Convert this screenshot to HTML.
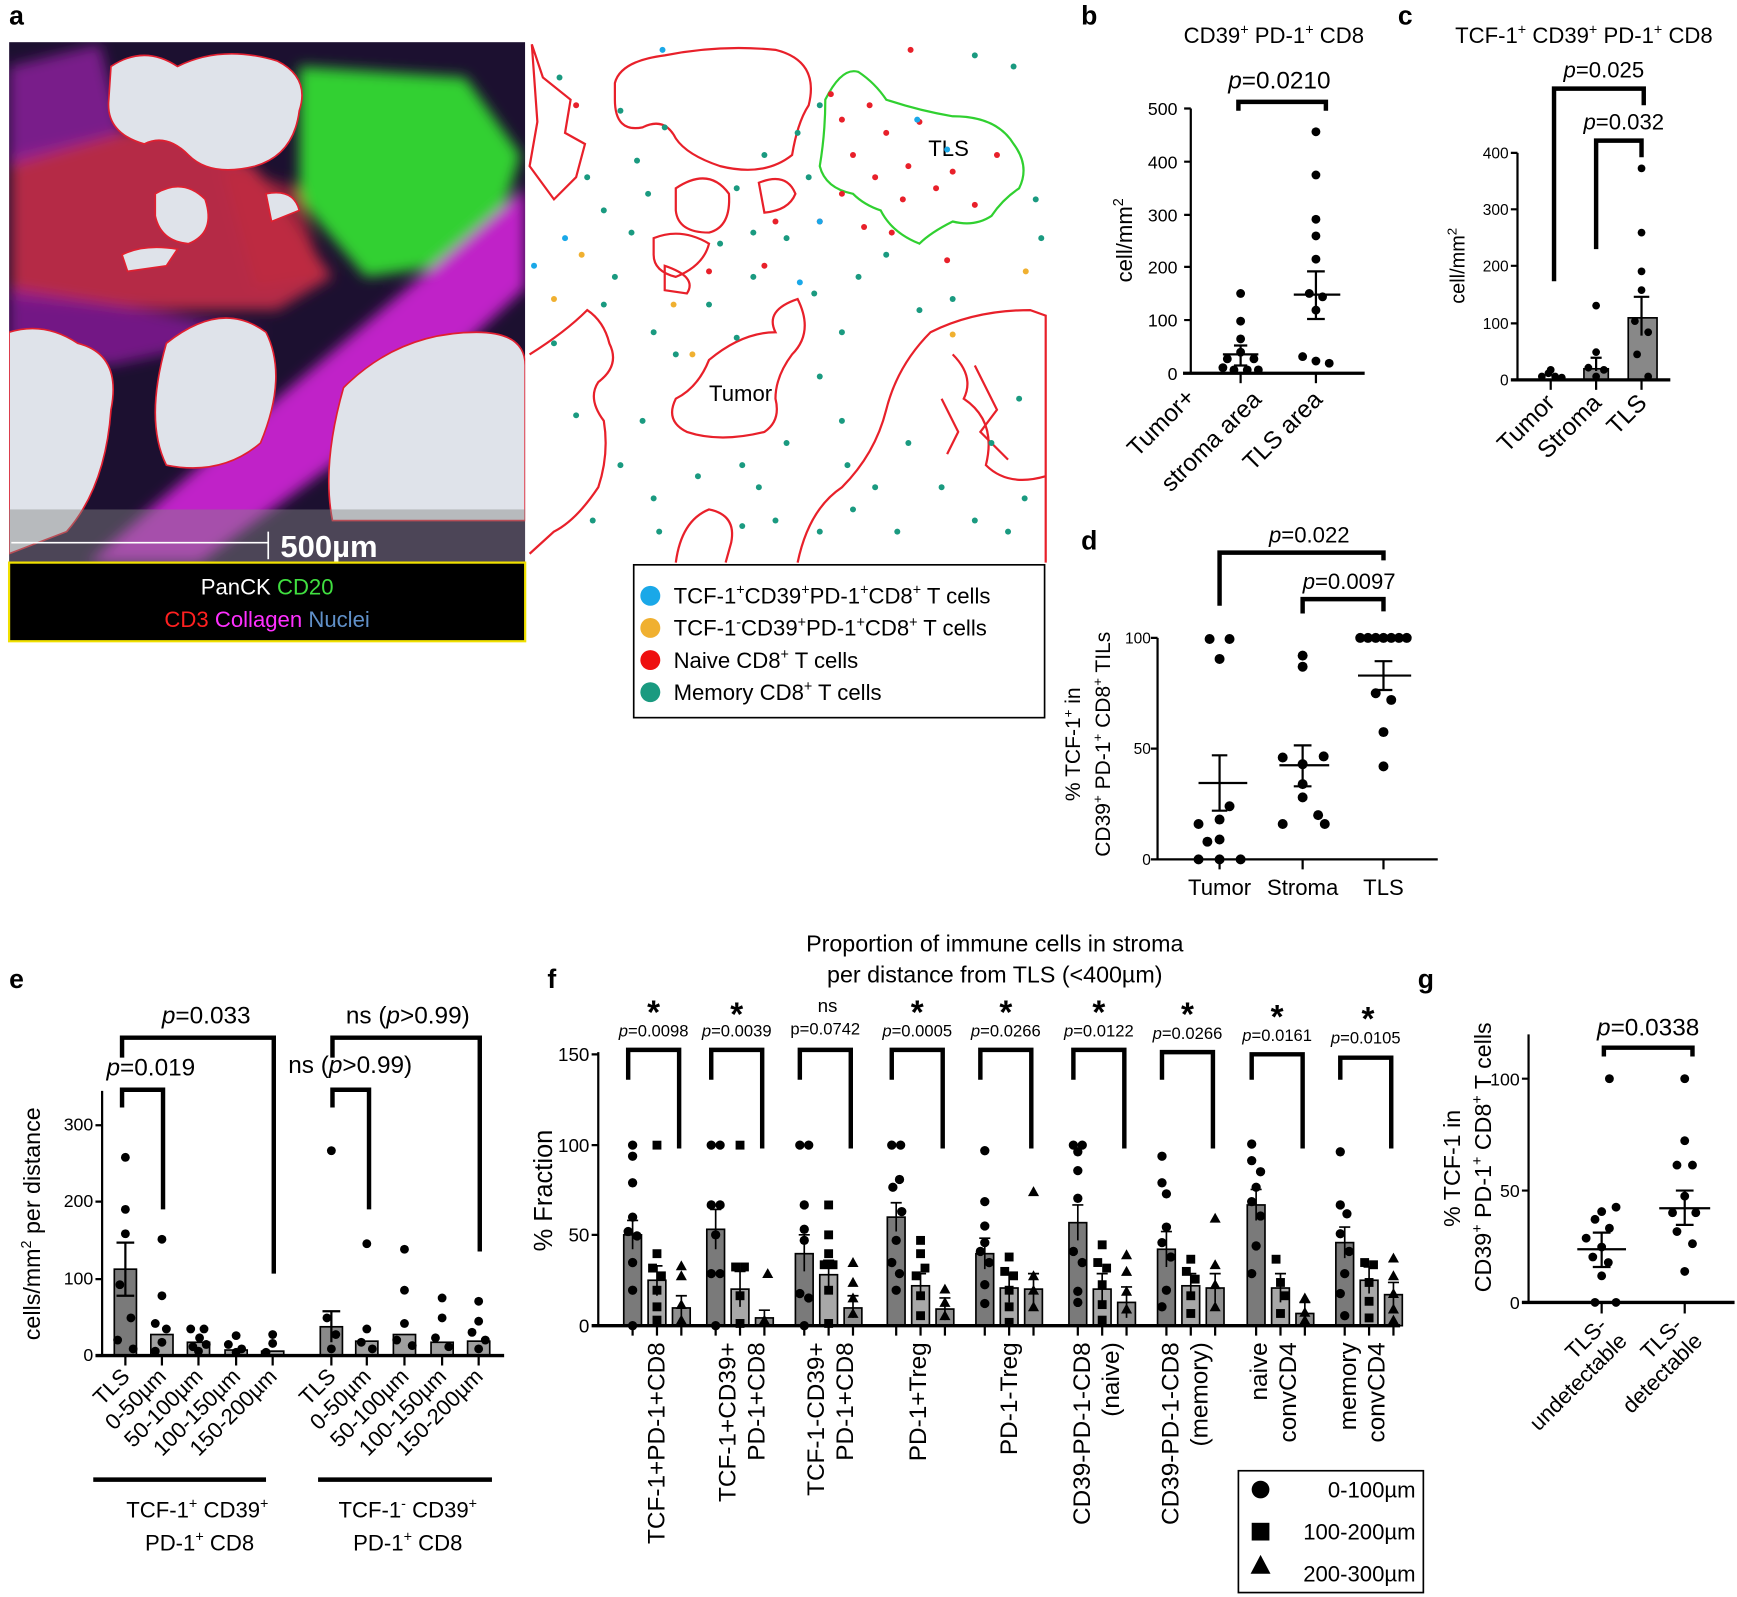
<!DOCTYPE html>
<html><head><meta charset="utf-8"><style>
html,body{margin:0;padding:0;background:#fff;}
svg{display:block;}
text{font-family:"Liberation Sans",sans-serif;fill:#000;}
</style></head><body>
<svg xmlns="http://www.w3.org/2000/svg" xmlns:xlink="http://www.w3.org/1999/xlink" width="1737" height="1597" viewBox="0 0 1568 1442">
<defs>
<filter id="bl" x="-20%" y="-20%" width="140%" height="140%"><feGaussianBlur stdDeviation="6"/></filter>
<clipPath id="imgc"><rect x="8" y="38" width="466" height="470"/></clipPath>
<circle id="c" cx="0" cy="0" r="4.2" fill="#000"/>
<rect id="s" x="-4" y="-4" width="8" height="8" fill="#000"/>
<path id="t" d="M0 -5l5 9h-10z" fill="#000"/>
</defs>
<g font-weight="bold" font-size="24">
<text x="8" y="22">a</text><text x="976" y="22">b</text><text x="1262" y="22">c</text>
<text x="976" y="496">d</text><text x="8" y="892">e</text><text x="494" y="892">f</text><text x="1280" y="892">g</text>
</g>

<!-- panel a image -->
<g clip-path="url(#imgc)">
<rect x="8" y="38" width="466" height="470" fill="#1c1030"/>
<g filter="url(#bl)">
<path d="M10 140 L150 110 L230 150 L300 250 L250 280 L150 280 L10 270Z" fill="#d0304a" opacity="0.85"/>
<path d="M270 60 L420 70 L470 140 L440 235 L330 250 L270 180Z" fill="#30d030"/>
<path d="M474 170 L474 260 L300 420 L180 508 L80 508 L250 360 Z" fill="#c020c8"/>
<path d="M8 260 L130 280 L240 300 L100 330 L8 320Z" fill="#8a1a9a" opacity="0.8"/>
<path d="M8 60 L90 40 L110 120 L8 150Z" fill="#9020a0" opacity="0.8"/>
<path d="M200 150 L270 170 L290 250 L230 260Z" fill="#c02840" opacity="0.7"/>
</g>
<g fill="#dfe3ea" stroke="#e02030" stroke-width="1.5">
<path d="M100 60 Q130 40 160 60 Q200 40 250 55 Q280 70 270 100 Q265 140 230 150 Q190 160 170 140 Q150 120 130 130 Q95 120 98 90Z"/>
<path d="M140 175 Q165 160 185 180 Q195 210 170 220 Q145 218 140 195Z"/>
<path d="M8 300 Q40 290 70 310 Q110 320 100 370 Q95 440 60 480 L8 500Z"/>
<path d="M150 310 Q200 270 240 300 Q260 340 235 400 Q200 430 150 420 Q130 380 150 310Z"/>
<path d="M310 350 Q360 300 430 300 Q474 300 474 330 L474 470 L300 470 Q290 420 310 350Z"/>
<path d="M240 175 Q265 170 270 190 L245 200Z"/>
<path d="M110 230 Q130 220 160 225 L150 240 L115 245Z"/>
</g>
<rect x="8" y="460" width="466" height="48" fill="#888" opacity="0.45"/>
<line x1="10" y1="490" x2="242" y2="490" stroke="#fff" stroke-width="1.5"/>
<line x1="242" y1="480" x2="242" y2="505" stroke="#fff" stroke-width="1.5"/>
<text x="253" y="503" font-size="28" font-weight="bold" style="fill:#fff">500µm</text>
</g>
<rect x="8" y="508" width="466" height="71" fill="#000" stroke="#f0e000" stroke-width="2"/>
<text x="241" y="537" font-size="20" text-anchor="middle" style="fill:#fff">PanCK <tspan style="fill:#40e040">CD20</tspan></text>
<text x="241" y="566" font-size="20" text-anchor="middle" style="fill:#ff2020">CD3 <tspan style="fill:#ff30ff">Collagen</tspan> <tspan style="fill:#6090c8">Nuclei</tspan></text>

<!-- map -->
<g fill="none" stroke="#e8202a" stroke-width="2">
<path d="M480 40 L485 110 L478 150 L500 180 L520 160 L528 130 L510 120 L515 90 L490 70Z"/>
<path d="M555 75 Q560 55 600 50 Q650 40 700 45 Q740 55 730 95 Q720 110 715 140 Q690 160 650 150 Q620 140 610 125 Q600 105 580 115 Q555 120 555 90Z"/>
<path d="M610 170 Q640 150 658 175 Q660 205 640 210 Q612 210 610 190Z"/>
<path d="M685 165 Q710 155 718 175 Q712 190 690 192Z"/>
<path d="M590 215 Q615 205 640 220 Q635 240 610 250 Q590 245 590 230Z"/>
<path d="M600 240 Q630 250 620 265 L600 262Z"/>
<path d="M478 320 Q510 300 530 280 Q545 290 550 310 Q560 330 540 345 Q530 360 545 380 Q550 410 540 440 Q520 470 500 480 L478 500"/>
<path d="M640 325 Q670 300 700 300 Q690 280 720 270 Q735 300 715 320 Q700 340 700 360 Q705 380 690 390 Q650 400 620 390 Q600 380 610 360 Q630 350 640 325Z"/>
<path d="M610 508 Q615 470 640 460 Q665 465 660 490 L655 508"/>
<path d="M720 508 Q730 460 760 440 Q790 410 800 370 Q810 330 840 300 Q880 280 930 280 L944 285 L944 508"/>
<path d="M860 320 Q880 340 870 360 Q900 380 890 420 Q910 440 944 430"/>
<path d="M880 330 l20 40 l-15 20 l25 25 M850 360 l15 30 l-10 20"/>
</g>
<path d="M745 90 Q760 60 775 65 Q790 75 800 90 Q830 100 860 105 Q900 105 915 130 Q930 150 920 170 Q905 180 895 195 Q880 205 860 200 Q840 210 830 220 Q805 210 795 190 Q780 185 770 175 Q745 170 740 150 Q745 120 745 90Z" fill="none" stroke="#30d030" stroke-width="2"/>
<text x="838" y="141" font-size="20">TLS</text>
<text x="640" y="362" font-size="20">Tumor</text>
<g fill="#e8202a">
<circle cx="760" cy="108" r="2.7"/><circle cx="785" cy="95" r="2.7"/><circle cx="800" cy="120" r="2.7"/><circle cx="770" cy="140" r="2.7"/><circle cx="820" cy="150" r="2.7"/><circle cx="845" cy="170" r="2.7"/><circle cx="790" cy="160" r="2.7"/><circle cx="860" cy="155" r="2.7"/><circle cx="880" cy="185" r="2.7"/><circle cx="815" cy="180" r="2.7"/><circle cx="760" cy="175" r="2.7"/><circle cx="830" cy="110" r="2.7"/><circle cx="900" cy="140" r="2.7"/><circle cx="750" cy="85" r="2.7"/><circle cx="805" cy="210" r="2.7"/><circle cx="780" cy="205" r="2.7"/><circle cx="740" cy="200" r="2.7"/><circle cx="822" cy="45" r="2.7"/><circle cx="700" cy="200" r="2.7"/><circle cx="690" cy="240" r="2.7"/><circle cx="520" cy="95" r="2.7"/><circle cx="855" cy="235" r="2.7"/><circle cx="640" cy="245" r="2.7"/>
</g>
<g fill="#1a9a80">
<circle cx="505" cy="70" r="2.7"/><circle cx="530" cy="160" r="2.7"/><circle cx="545" cy="190" r="2.7"/><circle cx="575" cy="145" r="2.7"/><circle cx="585" cy="175" r="2.7"/><circle cx="570" cy="210" r="2.7"/><circle cx="555" cy="250" r="2.7"/><circle cx="545" cy="275" r="2.7"/><circle cx="665" cy="170" r="2.7"/><circle cx="680" cy="210" r="2.7"/><circle cx="710" cy="215" r="2.7"/><circle cx="735" cy="265" r="2.7"/><circle cx="760" cy="300" r="2.7"/><circle cx="680" cy="250" r="2.7"/><circle cx="800" cy="230" r="2.7"/><circle cx="860" cy="270" r="2.7"/><circle cx="940" cy="215" r="2.7"/><circle cx="935" cy="180" r="2.7"/><circle cx="915" cy="60" r="2.7"/><circle cx="880" cy="50" r="2.7"/><circle cx="740" cy="95" r="2.7"/><circle cx="720" cy="120" r="2.7"/><circle cx="590" cy="300" r="2.7"/><circle cx="610" cy="320" r="2.7"/><circle cx="580" cy="380" r="2.7"/><circle cx="560" cy="420" r="2.7"/><circle cx="590" cy="450" r="2.7"/><circle cx="630" cy="430" r="2.7"/><circle cx="670" cy="420" r="2.7"/><circle cx="710" cy="400" r="2.7"/><circle cx="740" cy="340" r="2.7"/><circle cx="760" cy="380" r="2.7"/><circle cx="700" cy="470" r="2.7"/><circle cx="740" cy="480" r="2.7"/><circle cx="770" cy="460" r="2.7"/><circle cx="790" cy="440" r="2.7"/><circle cx="820" cy="400" r="2.7"/><circle cx="850" cy="440" r="2.7"/><circle cx="880" cy="470" r="2.7"/><circle cx="910" cy="480" r="2.7"/><circle cx="925" cy="450" r="2.7"/><circle cx="895" cy="400" r="2.7"/><circle cx="920" cy="360" r="2.7"/><circle cx="535" cy="470" r="2.7"/><circle cx="520" cy="375" r="2.7"/><circle cx="500" cy="310" r="2.7"/><circle cx="640" cy="275" r="2.7"/><circle cx="665" cy="305" r="2.7"/><circle cx="775" cy="250" r="2.7"/><circle cx="830" cy="280" r="2.7"/><circle cx="600" cy="115" r="2.7"/><circle cx="650" cy="220" r="2.7"/><circle cx="690" cy="140" r="2.7"/><circle cx="730" cy="160" r="2.7"/><circle cx="595" cy="480" r="2.7"/><circle cx="670" cy="475" r="2.7"/><circle cx="810" cy="480" r="2.7"/><circle cx="765" cy="420" r="2.7"/><circle cx="685" cy="440" r="2.7"/><circle cx="560" cy="100" r="2.7"/>
</g>
<g fill="#1aa8e8"><circle cx="598" cy="45" r="2.7"/><circle cx="828" cy="108" r="2.7"/><circle cx="855" cy="135" r="2.7"/><circle cx="510" cy="215" r="2.7"/><circle cx="722" cy="255" r="2.7"/><circle cx="482" cy="240" r="2.7"/><circle cx="740" cy="200" r="2.7"/></g>
<g fill="#f0b030"><circle cx="500" cy="270" r="2.7"/><circle cx="525" cy="230" r="2.7"/><circle cx="608" cy="275" r="2.7"/><circle cx="860" cy="302" r="2.7"/><circle cx="926" cy="245" r="2.7"/><circle cx="625" cy="320" r="2.7"/></g>

<!-- legend a -->
<rect x="572" y="510" width="371" height="138" fill="#fff" stroke="#000" stroke-width="1.5"/>
<g font-size="20">
<circle cx="587" cy="538" r="9" fill="#1aa8e8"/><text x="608" y="545">TCF-1<tspan font-size="13" dy="-8">+</tspan><tspan dy="8">CD39</tspan><tspan font-size="13" dy="-8">+</tspan><tspan dy="8">PD-1</tspan><tspan font-size="13" dy="-8">+</tspan><tspan dy="8">CD8</tspan><tspan font-size="13" dy="-8">+</tspan><tspan dy="8"> T cells</tspan></text>
<circle cx="587" cy="567" r="9" fill="#f0b030"/><text x="608" y="574">TCF-1<tspan font-size="13" dy="-8">-</tspan><tspan dy="8">CD39</tspan><tspan font-size="13" dy="-8">+</tspan><tspan dy="8">PD-1</tspan><tspan font-size="13" dy="-8">+</tspan><tspan dy="8">CD8</tspan><tspan font-size="13" dy="-8">+</tspan><tspan dy="8"> T cells</tspan></text>
<circle cx="587" cy="596" r="9" fill="#ee1010"/><text x="608" y="603">Naive CD8<tspan font-size="13" dy="-8">+</tspan><tspan dy="8"> T cells</tspan></text>
<circle cx="587" cy="625" r="9" fill="#1a9a80"/><text x="608" y="632">Memory CD8<tspan font-size="13" dy="-8">+</tspan><tspan dy="8"> T cells</tspan></text>
</g>

<!-- panel b -->
<text x="1150" y="39" font-size="20" text-anchor="middle">CD39<tspan font-size="13" dy="-8">+</tspan><tspan dy="8"> PD-1</tspan><tspan font-size="13" dy="-8">+</tspan><tspan dy="8"> CD8</tspan></text>
<g stroke="#000" stroke-width="2" fill="none">
<line x1="1075" y1="98" x2="1075" y2="338"/>
<line x1="1068" y1="337" x2="1232" y2="337" stroke-width="3"/>
<path d="M1069 98h6M1069 146h6M1069 194h6M1069 241h6M1069 289h6"/>
<line x1="1120" y1="337" x2="1120" y2="346"/><line x1="1188" y1="337" x2="1188" y2="346"/>
<path d="M1118 100V92H1197V100" stroke-width="4"/>
<path d="M1104 320H1136M1120 312V330M1120 312h-6h12M1120 330h-6h12" stroke-width="2"/>
<path d="M1168 266H1210M1188 245V288M1180 245h16M1180 288h16" stroke-width="2"/>
</g>
<g font-size="16" text-anchor="end"><text x="1063" y="104">500</text><text x="1063" y="152">400</text><text x="1063" y="200">300</text><text x="1063" y="247">200</text><text x="1063" y="295">100</text><text x="1063" y="343">0</text></g>
<text transform="translate(1022,217) rotate(-90)" font-size="20" text-anchor="middle">cell/mm<tspan font-size="13" dy="-8">2</tspan></text>
<text x="1155" y="80" font-size="22" text-anchor="middle"><tspan font-style="italic">p</tspan>=0.0210</text>
<g fill="#000">
<circle cx="1120" cy="265" r="4"/><circle cx="1120" cy="290" r="4"/><circle cx="1120" cy="318" r="4"/><circle cx="1108" cy="324" r="4"/><circle cx="1132" cy="324" r="4"/><circle cx="1104" cy="332" r="4"/><circle cx="1114" cy="334" r="4"/><circle cx="1126" cy="334" r="4"/><circle cx="1136" cy="334" r="4"/><circle cx="1120" cy="306" r="4"/>
<circle cx="1188" cy="119" r="4"/><circle cx="1188" cy="158" r="4"/><circle cx="1188" cy="198" r="4"/><circle cx="1188" cy="213" r="4"/><circle cx="1188" cy="234" r="4"/><circle cx="1182" cy="265" r="4"/><circle cx="1194" cy="268" r="4"/><circle cx="1188" cy="280" r="4"/><circle cx="1176" cy="322" r="4"/><circle cx="1188" cy="326" r="4"/><circle cx="1200" cy="328" r="4"/>
</g>
<g font-size="22" text-anchor="end">
<text transform="translate(1080,360) rotate(-45)">Tumor+</text>
<text transform="translate(1140,362) rotate(-45)">stroma area</text>
<text transform="translate(1195,362) rotate(-45)">TLS area</text>
</g>

<!-- panel c -->
<text x="1430" y="39" font-size="20" text-anchor="middle">TCF-1<tspan font-size="13" dy="-8">+</tspan><tspan dy="8"> CD39</tspan><tspan font-size="13" dy="-8">+</tspan><tspan dy="8"> PD-1</tspan><tspan font-size="13" dy="-8">+</tspan><tspan dy="8"> CD8</tspan></text>
<rect x="1470" y="287" width="26" height="56" fill="#888" stroke="#000" stroke-width="1.5"/>
<rect x="1430" y="333" width="22" height="10" fill="#888" stroke="#000" stroke-width="1.5"/>
<g stroke="#000" stroke-width="2" fill="none">
<line x1="1370" y1="138" x2="1370" y2="344"/>
<line x1="1364" y1="343" x2="1508" y2="343" stroke-width="3"/>
<path d="M1364 138h6M1364 189h6M1364 240h6M1364 292h6"/>
<line x1="1400" y1="343" x2="1400" y2="352"/><line x1="1441" y1="343" x2="1441" y2="352"/><line x1="1482" y1="343" x2="1482" y2="352"/>
<path d="M1403 254V80H1484V95" stroke-width="4"/>
<path d="M1441 225V127H1482V142" stroke-width="4"/>
<path d="M1482 268V303M1475 268h14M1441 323V335M1436 323h10"/>
</g>
<g font-size="14" text-anchor="end"><text x="1362" y="143">400</text><text x="1362" y="194">300</text><text x="1362" y="245">200</text><text x="1362" y="297">100</text><text x="1362" y="348">0</text></g>
<text transform="translate(1322,240) rotate(-90)" font-size="18" text-anchor="middle">cell/mm<tspan font-size="12" dy="-7">2</tspan></text>
<text x="1448" y="70" font-size="20" text-anchor="middle"><tspan font-style="italic">p</tspan>=0.025</text>
<text x="1466" y="117" font-size="20" text-anchor="middle"><tspan font-style="italic">p</tspan>=0.032</text>
<g fill="#000">
<circle cx="1392" cy="340" r="3.5"/><circle cx="1398" cy="337" r="3.5"/><circle cx="1404" cy="340" r="3.5"/><circle cx="1410" cy="341" r="3.5"/><circle cx="1400" cy="334" r="3.5"/>
<circle cx="1441" cy="276" r="3.5"/><circle cx="1441" cy="318" r="3.5"/><circle cx="1434" cy="332" r="3.5"/><circle cx="1448" cy="334" r="3.5"/><circle cx="1441" cy="340" r="3.5"/>
<circle cx="1482" cy="152" r="3.5"/><circle cx="1482" cy="210" r="3.5"/><circle cx="1482" cy="245" r="3.5"/><circle cx="1482" cy="262" r="3.5"/><circle cx="1476" cy="290" r="3.5"/><circle cx="1488" cy="300" r="3.5"/><circle cx="1478" cy="320" r="3.5"/><circle cx="1488" cy="340" r="3.5"/>
</g>
<g font-size="22" text-anchor="end">
<text transform="translate(1405,365) rotate(-45)">Tumor</text>
<text transform="translate(1447,365) rotate(-45)">Stroma</text>
<text transform="translate(1488,365) rotate(-45)">TLS</text>
</g>

<!-- panel d -->
<g stroke="#000" stroke-width="2" fill="none">
<line x1="1045" y1="576" x2="1045" y2="777"/>
<line x1="1045" y1="776" x2="1298" y2="776"/>
<path d="M1039 576h6M1039 676h6M1039 776h6"/>
<line x1="1101" y1="776" x2="1101" y2="785"/><line x1="1176" y1="776" x2="1176" y2="785"/><line x1="1249" y1="776" x2="1249" y2="785"/>
<path d="M1101 547V499H1249V506" stroke-width="4"/>
<path d="M1176 554V541H1249V552" stroke-width="4"/>
<path d="M1082 707H1126M1101 682V732M1094 682h14M1094 732h14"/>
<path d="M1155 691H1200M1176 673V710M1168 673h16M1168 710h16"/>
<path d="M1226 610H1274M1249 597V623M1241 597h16M1241 623h16"/>
</g>
<g font-size="14" text-anchor="end"><text x="1039" y="581">100</text><text x="1039" y="681">50</text><text x="1039" y="781">0</text></g>
<text transform="translate(975,672) rotate(-90)" font-size="19" text-anchor="middle">% TCF-1<tspan font-size="12" dy="-7">+</tspan><tspan dy="7"> in</tspan></text>
<text transform="translate(1002,672) rotate(-90)" font-size="19" text-anchor="middle">CD39<tspan font-size="12" dy="-7">+</tspan><tspan dy="7"> PD-1</tspan><tspan font-size="12" dy="-7">+</tspan><tspan dy="7"> CD8</tspan><tspan font-size="12" dy="-7">+</tspan><tspan dy="7"> TILs</tspan></text>
<text x="1182" y="490" font-size="20" text-anchor="middle"><tspan font-style="italic">p</tspan>=0.022</text>
<text x="1218" y="532" font-size="20" text-anchor="middle"><tspan font-style="italic">p</tspan>=0.0097</text>
<g fill="#000">
<circle cx="1092" cy="577" r="4.5"/><circle cx="1110" cy="577" r="4.5"/><circle cx="1101" cy="595" r="4.5"/><circle cx="1101" cy="758" r="4.5"/><circle cx="1082" cy="744" r="4.5"/><circle cx="1090" cy="760" r="4.5"/><circle cx="1101" cy="740" r="4.5"/><circle cx="1082" cy="776" r="4.5"/><circle cx="1101" cy="776" r="4.5"/><circle cx="1120" cy="776" r="4.5"/><circle cx="1110" cy="728" r="4.5"/>
<circle cx="1176" cy="592" r="4.5"/><circle cx="1176" cy="602" r="4.5"/><circle cx="1158" cy="684" r="4.5"/><circle cx="1176" cy="690" r="4.5"/><circle cx="1195" cy="683" r="4.5"/><circle cx="1158" cy="744" r="4.5"/><circle cx="1176" cy="720" r="4.5"/><circle cx="1190" cy="736" r="4.5"/><circle cx="1196" cy="744" r="4.5"/><circle cx="1176" cy="708" r="4.5"/>
<circle cx="1228" cy="576" r="4.5"/><circle cx="1235" cy="576" r="4.5"/><circle cx="1242" cy="576" r="4.5"/><circle cx="1249" cy="576" r="4.5"/><circle cx="1256" cy="576" r="4.5"/><circle cx="1263" cy="576" r="4.5"/><circle cx="1270" cy="576" r="4.5"/><circle cx="1242" cy="626" r="4.5"/><circle cx="1256" cy="632" r="4.5"/><circle cx="1249" cy="661" r="4.5"/><circle cx="1249" cy="692" r="4.5"/>
</g>
<g font-size="20" text-anchor="middle"><text x="1101" y="808">Tumor</text><text x="1176" y="808">Stroma</text><text x="1249" y="808">TLS</text></g>

<!-- panel e -->
<g stroke="#000" stroke-width="1.5" fill="#7a7a7a">
<rect x="103" y="1146" width="20" height="78"/>
<rect x="136" y="1205" width="20" height="19" fill="#a0a0a0"/>
<rect x="169" y="1212" width="20" height="12" fill="#a0a0a0"/>
<rect x="203" y="1219" width="20" height="5" fill="#a0a0a0"/>
<rect x="236" y="1220" width="20" height="4" fill="#a0a0a0"/>
<rect x="289" y="1198" width="20" height="26" fill="#8a8a8a"/>
<rect x="321" y="1211" width="20" height="13" fill="#a0a0a0"/>
<rect x="355" y="1205" width="20" height="19" fill="#a0a0a0"/>
<rect x="389" y="1212" width="20" height="12" fill="#a0a0a0"/>
<rect x="422" y="1211" width="20" height="13" fill="#a0a0a0"/>
</g>
<g stroke="#000" stroke-width="2" fill="none">
<line x1="92" y1="985" x2="92" y2="1225"/>
<line x1="86" y1="1224" x2="455" y2="1224" stroke-width="3"/>
<path d="M86 1016h6M86 1085h6M86 1155h6"/>
<path d="M113 1224v9M146 1224v9M179 1224v9M213 1224v9M246 1224v9M299 1224v9M331 1224v9M365 1224v9M399 1224v9M432 1224v9"/>
<path d="M110 955V937H247V1150" stroke-width="4"/>
<path d="M110 1000V984H147V1092" stroke-width="4"/>
<path d="M300 955V937H433V1130" stroke-width="4"/>
<path d="M300 1000V984H333V1092" stroke-width="4"/>
<path d="M113 1122V1170M105 1122h16M105 1170h16M299 1184V1212M291 1184h16"/>
<line x1="84" y1="1336" x2="240" y2="1336" stroke-width="4"/>
<line x1="287" y1="1336" x2="444" y2="1336" stroke-width="4"/>
</g>
<g font-size="16" text-anchor="end"><text x="84" y="1021">300</text><text x="84" y="1090">200</text><text x="84" y="1160">100</text><text x="84" y="1229">0</text></g>
<text transform="translate(36,1105) rotate(-90)" font-size="21" text-anchor="middle">cells/mm<tspan font-size="13" dy="-8">2</tspan><tspan dy="8"> per distance</tspan></text>
<g font-size="22" text-anchor="middle">
<text x="186" y="924"><tspan font-style="italic">p</tspan>=0.033</text>
<text x="136" y="971"><tspan font-style="italic">p</tspan>=0.019</text>
<text x="368" y="924">ns (<tspan font-style="italic">p</tspan>&gt;0.99)</text>
<text x="316" y="969">ns (<tspan font-style="italic">p</tspan>&gt;0.99)</text>
</g>
<g fill="#000">
<circle cx="113" cy="1045" r="4"/><circle cx="113" cy="1092" r="4"/><circle cx="113" cy="1114" r="4"/><circle cx="108" cy="1160" r="4"/><circle cx="118" cy="1190" r="4"/><circle cx="106" cy="1210" r="4"/><circle cx="120" cy="1218" r="4"/>
<circle cx="146" cy="1119" r="4"/><circle cx="146" cy="1170" r="4"/><circle cx="140" cy="1195" r="4"/><circle cx="150" cy="1200" r="4"/><circle cx="146" cy="1212" r="4"/><circle cx="140" cy="1220" r="4"/>
<circle cx="172" cy="1200" r="4"/><circle cx="180" cy="1208" r="4"/><circle cx="186" cy="1214" r="4"/><circle cx="174" cy="1216" r="4"/><circle cx="184" cy="1200" r="4"/><circle cx="179" cy="1220" r="4"/>
<circle cx="213" cy="1206" r="4"/><circle cx="206" cy="1214" r="4"/><circle cx="218" cy="1218" r="4"/><circle cx="213" cy="1221" r="4"/>
<circle cx="246" cy="1205" r="4"/><circle cx="246" cy="1213" r="4"/><circle cx="240" cy="1221" r="4"/>
<circle cx="299" cy="1039" r="4"/><circle cx="295" cy="1190" r="4"/><circle cx="303" cy="1205" r="4"/><circle cx="299" cy="1218" r="4"/>
<circle cx="331" cy="1123" r="4"/><circle cx="331" cy="1200" r="4"/><circle cx="326" cy="1212" r="4"/><circle cx="336" cy="1218" r="4"/>
<circle cx="365" cy="1128" r="4"/><circle cx="365" cy="1165" r="4"/><circle cx="365" cy="1195" r="4"/><circle cx="358" cy="1210" r="4"/><circle cx="372" cy="1215" r="4"/>
<circle cx="399" cy="1172" r="4"/><circle cx="399" cy="1190" r="4"/><circle cx="393" cy="1208" r="4"/><circle cx="405" cy="1216" r="4"/>
<circle cx="432" cy="1175" r="4"/><circle cx="432" cy="1193" r="4"/><circle cx="426" cy="1203" r="4"/><circle cx="438" cy="1210" r="4"/><circle cx="432" cy="1218" r="4"/>
</g>
<g font-size="20" text-anchor="end">
<text transform="translate(118,1244) rotate(-45)">TLS</text>
<text transform="translate(151,1244) rotate(-45)">0-50µm</text>
<text transform="translate(184,1244) rotate(-45)">50-100µm</text>
<text transform="translate(218,1244) rotate(-45)">100-150µm</text>
<text transform="translate(251,1244) rotate(-45)">150-200µm</text>
<text transform="translate(304,1244) rotate(-45)">TLS</text>
<text transform="translate(336,1244) rotate(-45)">0-50µm</text>
<text transform="translate(370,1244) rotate(-45)">50-100µm</text>
<text transform="translate(404,1244) rotate(-45)">100-150µm</text>
<text transform="translate(437,1244) rotate(-45)">150-200µm</text>
</g>
<g font-size="20" text-anchor="middle">
<text x="178" y="1370">TCF-1<tspan font-size="13" dy="-8">+</tspan><tspan dy="8"> CD39</tspan><tspan font-size="13" dy="-8">+</tspan></text>
<text x="180" y="1400">PD-1<tspan font-size="13" dy="-8">+</tspan><tspan dy="8"> CD8</tspan></text>
<text x="368" y="1370">TCF-1<tspan font-size="13" dy="-8">-</tspan><tspan dy="8"> CD39</tspan><tspan font-size="13" dy="-8">+</tspan></text>
<text x="368" y="1400">PD-1<tspan font-size="13" dy="-8">+</tspan><tspan dy="8"> CD8</tspan></text>
</g>

<!-- panel f -->
<text x="898" y="859" font-size="21" text-anchor="middle">Proportion of immune cells in stroma</text>
<text x="898" y="887" font-size="21" text-anchor="middle">per distance from TLS (&lt;400µm)</text>
<g font-size="15" text-anchor="middle">
<text x="590" y="936"><tspan font-style="italic">p</tspan>=0.0098</text>
<text x="665" y="936"><tspan font-style="italic">p</tspan>=0.0039</text>
<text x="745" y="934">p=0.0742</text>
<text x="828" y="936"><tspan font-style="italic">p</tspan>=0.0005</text>
<text x="908" y="936"><tspan font-style="italic">p</tspan>=0.0266</text>
<text x="992" y="936"><tspan font-style="italic">p</tspan>=0.0122</text>
<text x="1072" y="938"><tspan font-style="italic">p</tspan>=0.0266</text>
<text x="1153" y="940"><tspan font-style="italic">p</tspan>=0.0161</text>
<text x="1233" y="942"><tspan font-style="italic">p</tspan>=0.0105</text>
</g>
<g font-size="30" font-weight="bold" text-anchor="middle">
<text x="590" y="924">*</text><text x="665" y="926">*</text><text x="828" y="924">*</text><text x="908" y="924">*</text><text x="992" y="924">*</text><text x="1072" y="926">*</text><text x="1153" y="928">*</text><text x="1235" y="930">*</text>
</g>
<text x="747" y="914" font-size="17" text-anchor="middle">ns</text>
<g stroke="#000" stroke-width="4" fill="none">
<path d="M567 975V948H613V1037"/><path d="M642 975V948H688V1037"/><path d="M722 975V948H768V1037"/>
<path d="M805 975V948H851V1037"/><path d="M885 975V948H931V1037"/><path d="M969 975V948H1015V1037"/>
<path d="M1049 975V950H1095V1037"/><path d="M1130 975V952H1176V1037"/><path d="M1210 975V955H1256V1037"/>
</g>
<g stroke="#000" stroke-width="1.5">
<g fill="#7a7a7a">
<rect x="563" y="1115" width="16" height="82"/><rect x="638" y="1110" width="16" height="87"/><rect x="718" y="1132" width="16" height="65"/>
<rect x="801" y="1099" width="16" height="98"/><rect x="881" y="1132" width="16" height="65"/><rect x="965" y="1104" width="16" height="93"/>
<rect x="1045" y="1128" width="16" height="69"/><rect x="1126" y="1088" width="16" height="109"/><rect x="1206" y="1122" width="16" height="75"/>
</g>
<g fill="#a8a8a8">
<rect x="585" y="1156" width="16" height="41"/><rect x="660" y="1164" width="16" height="33"/><rect x="740" y="1151" width="16" height="46"/>
<rect x="823" y="1161" width="16" height="36"/><rect x="903" y="1163" width="16" height="34"/><rect x="987" y="1164" width="16" height="33"/>
<rect x="1067" y="1161" width="16" height="36"/><rect x="1148" y="1163" width="16" height="34"/><rect x="1228" y="1156" width="16" height="41"/>
</g>
<g fill="#909090">
<rect x="607" y="1181" width="16" height="16"/><rect x="682" y="1190" width="16" height="7"/><rect x="762" y="1181" width="16" height="16"/>
<rect x="845" y="1182" width="16" height="15"/><rect x="925" y="1164" width="16" height="33"/><rect x="1009" y="1176" width="16" height="21"/>
<rect x="1089" y="1163" width="16" height="34"/><rect x="1170" y="1186" width="16" height="11"/><rect x="1250" y="1169" width="16" height="28"/>
</g>
</g>
<g stroke="#000" stroke-width="1.5" fill="none">
<path d="M571 1102V1128M566 1102h10M593 1143V1170M588 1143h10M615 1170V1190M610 1170h10"/>
<path d="M646 1092V1128M641 1092h10M668 1148V1180M663 1148h10M690 1183V1197M685 1183h10"/>
<path d="M726 1115V1148M721 1115h10M748 1138V1165M743 1138h10M770 1170V1190M765 1170h10"/>
<path d="M809 1086V1112M804 1086h10M831 1150V1172M826 1150h10M853 1172V1192M848 1172h10"/>
<path d="M889 1118V1146M884 1118h10M911 1150V1176M906 1150h10M933 1150V1178M928 1150h10"/>
<path d="M973 1088V1120M968 1088h10M995 1150V1178M990 1150h10M1017 1162V1190M1012 1162h10"/>
<path d="M1053 1112V1144M1048 1112h10M1075 1150V1172M1070 1150h10M1097 1150V1176M1092 1150h10"/>
<path d="M1134 1074V1102M1129 1074h10M1156 1150V1176M1151 1150h10M1178 1176V1195M1173 1176h10"/>
<path d="M1214 1108V1136M1209 1108h10M1236 1144V1168M1231 1144h10M1258 1158V1180M1253 1158h10"/>
<path d="M571 1197v9M593 1197v9M615 1197v9M646 1197v9M668 1197v9M690 1197v9M726 1197v9M748 1197v9M770 1197v9M809 1197v9M831 1197v9M853 1197v9M889 1197v9M911 1197v9M933 1197v9M973 1197v9M995 1197v9M1017 1197v9M1053 1197v9M1075 1197v9M1097 1197v9M1134 1197v9M1156 1197v9M1178 1197v9M1214 1197v9M1236 1197v9M1258 1197v9" stroke-width="2"/>
</g>
<g>
<use xlink:href="#c" x="571" y="1034"/><use xlink:href="#c" x="571" y="1044"/><use xlink:href="#c" x="571" y="1068"/><use xlink:href="#c" x="571" y="1099"/><use xlink:href="#c" x="567" y="1112"/><use xlink:href="#c" x="575" y="1116"/><use xlink:href="#c" x="571" y="1140"/><use xlink:href="#c" x="571" y="1165"/><use xlink:href="#c" x="571" y="1197"/>
<use xlink:href="#s" x="593" y="1034"/><use xlink:href="#s" x="593" y="1132"/><use xlink:href="#s" x="589" y="1145"/><use xlink:href="#s" x="597" y="1152"/><use xlink:href="#s" x="593" y="1165"/><use xlink:href="#s" x="593" y="1180"/><use xlink:href="#s" x="593" y="1192"/>
<use xlink:href="#t" x="615" y="1143"/><use xlink:href="#t" x="615" y="1152"/><use xlink:href="#t" x="615" y="1178"/><use xlink:href="#t" x="615" y="1192"/>
<use xlink:href="#c" x="642" y="1034"/><use xlink:href="#c" x="650" y="1034"/><use xlink:href="#c" x="642" y="1088"/><use xlink:href="#c" x="650" y="1088"/><use xlink:href="#c" x="646" y="1115"/><use xlink:href="#c" x="642" y="1150"/><use xlink:href="#c" x="650" y="1150"/><use xlink:href="#c" x="646" y="1197"/>
<use xlink:href="#s" x="668" y="1034"/><use xlink:href="#s" x="664" y="1144"/><use xlink:href="#s" x="672" y="1144"/><use xlink:href="#s" x="668" y="1170"/><use xlink:href="#s" x="668" y="1195"/>
<use xlink:href="#t" x="693" y="1150"/><use xlink:href="#t" x="690" y="1192"/>
<use xlink:href="#c" x="722" y="1034"/><use xlink:href="#c" x="730" y="1034"/><use xlink:href="#c" x="726" y="1088"/><use xlink:href="#c" x="726" y="1110"/><use xlink:href="#c" x="726" y="1120"/><use xlink:href="#c" x="722" y="1168"/><use xlink:href="#c" x="730" y="1172"/><use xlink:href="#c" x="726" y="1197"/>
<use xlink:href="#s" x="748" y="1088"/><use xlink:href="#s" x="748" y="1115"/><use xlink:href="#s" x="748" y="1132"/><use xlink:href="#s" x="744" y="1142"/><use xlink:href="#s" x="752" y="1142"/><use xlink:href="#s" x="748" y="1165"/><use xlink:href="#s" x="748" y="1195"/>
<use xlink:href="#t" x="770" y="1140"/><use xlink:href="#t" x="770" y="1158"/><use xlink:href="#t" x="770" y="1172"/><use xlink:href="#t" x="770" y="1186"/>
<use xlink:href="#c" x="805" y="1034"/><use xlink:href="#c" x="813" y="1034"/><use xlink:href="#c" x="812" y="1065"/><use xlink:href="#c" x="806" y="1072"/><use xlink:href="#c" x="814" y="1094"/><use xlink:href="#c" x="809" y="1120"/><use xlink:href="#c" x="805" y="1140"/><use xlink:href="#c" x="812" y="1150"/><use xlink:href="#c" x="809" y="1165"/>
<use xlink:href="#s" x="831" y="1120"/><use xlink:href="#s" x="831" y="1132"/><use xlink:href="#s" x="835" y="1145"/><use xlink:href="#s" x="827" y="1152"/><use xlink:href="#s" x="831" y="1170"/><use xlink:href="#s" x="831" y="1188"/>
<use xlink:href="#t" x="853" y="1164"/><use xlink:href="#t" x="853" y="1176"/><use xlink:href="#t" x="853" y="1188"/>
<use xlink:href="#c" x="889" y="1039"/><use xlink:href="#c" x="889" y="1085"/><use xlink:href="#c" x="889" y="1107"/><use xlink:href="#c" x="889" y="1122"/><use xlink:href="#c" x="885" y="1130"/><use xlink:href="#c" x="893" y="1140"/><use xlink:href="#c" x="889" y="1160"/><use xlink:href="#c" x="889" y="1177"/>
<use xlink:href="#s" x="911" y="1135"/><use xlink:href="#s" x="907" y="1148"/><use xlink:href="#s" x="915" y="1152"/><use xlink:href="#s" x="911" y="1165"/><use xlink:href="#s" x="911" y="1180"/><use xlink:href="#s" x="911" y="1194"/>
<use xlink:href="#t" x="933" y="1076"/><use xlink:href="#t" x="933" y="1152"/><use xlink:href="#t" x="933" y="1165"/><use xlink:href="#t" x="933" y="1180"/>
<use xlink:href="#c" x="969" y="1034"/><use xlink:href="#c" x="977" y="1034"/><use xlink:href="#c" x="973" y="1040"/><use xlink:href="#c" x="973" y="1057"/><use xlink:href="#c" x="973" y="1082"/><use xlink:href="#c" x="969" y="1130"/><use xlink:href="#c" x="977" y="1140"/><use xlink:href="#c" x="973" y="1166"/><use xlink:href="#c" x="973" y="1176"/>
<use xlink:href="#s" x="995" y="1124"/><use xlink:href="#s" x="991" y="1140"/><use xlink:href="#s" x="999" y="1145"/><use xlink:href="#s" x="995" y="1160"/><use xlink:href="#s" x="995" y="1178"/><use xlink:href="#s" x="995" y="1192"/>
<use xlink:href="#t" x="1017" y="1133"/><use xlink:href="#t" x="1017" y="1148"/><use xlink:href="#t" x="1017" y="1166"/><use xlink:href="#t" x="1017" y="1182"/>
<use xlink:href="#c" x="1049" y="1044"/><use xlink:href="#c" x="1049" y="1068"/><use xlink:href="#c" x="1053" y="1078"/><use xlink:href="#c" x="1053" y="1108"/><use xlink:href="#c" x="1049" y="1122"/><use xlink:href="#c" x="1057" y="1135"/><use xlink:href="#c" x="1053" y="1165"/><use xlink:href="#c" x="1049" y="1180"/>
<use xlink:href="#s" x="1075" y="1137"/><use xlink:href="#s" x="1071" y="1148"/><use xlink:href="#s" x="1079" y="1155"/><use xlink:href="#s" x="1075" y="1170"/><use xlink:href="#s" x="1075" y="1186"/>
<use xlink:href="#t" x="1097" y="1100"/><use xlink:href="#t" x="1097" y="1142"/><use xlink:href="#t" x="1097" y="1160"/><use xlink:href="#t" x="1097" y="1180"/>
<use xlink:href="#c" x="1130" y="1033"/><use xlink:href="#c" x="1130" y="1048"/><use xlink:href="#c" x="1138" y="1058"/><use xlink:href="#c" x="1134" y="1072"/><use xlink:href="#c" x="1130" y="1085"/><use xlink:href="#c" x="1138" y="1098"/><use xlink:href="#c" x="1134" y="1125"/><use xlink:href="#c" x="1130" y="1150"/>
<use xlink:href="#s" x="1152" y="1137"/><use xlink:href="#s" x="1156" y="1158"/><use xlink:href="#s" x="1160" y="1170"/><use xlink:href="#s" x="1156" y="1186"/>
<use xlink:href="#t" x="1178" y="1172"/><use xlink:href="#t" x="1178" y="1185"/><use xlink:href="#t" x="1178" y="1192"/>
<use xlink:href="#c" x="1210" y="1040"/><use xlink:href="#c" x="1210" y="1088"/><use xlink:href="#c" x="1216" y="1096"/><use xlink:href="#c" x="1210" y="1114"/><use xlink:href="#c" x="1218" y="1130"/><use xlink:href="#c" x="1214" y="1150"/><use xlink:href="#c" x="1210" y="1168"/><use xlink:href="#c" x="1214" y="1188"/>
<use xlink:href="#s" x="1232" y="1140"/><use xlink:href="#s" x="1240" y="1142"/><use xlink:href="#s" x="1236" y="1158"/><use xlink:href="#s" x="1236" y="1175"/><use xlink:href="#s" x="1236" y="1190"/>
<use xlink:href="#t" x="1258" y="1136"/><use xlink:href="#t" x="1258" y="1152"/><use xlink:href="#t" x="1258" y="1168"/><use xlink:href="#t" x="1258" y="1182"/><use xlink:href="#t" x="1258" y="1192"/>
</g>
<g stroke="#000" stroke-width="2" fill="none">
<line x1="540" y1="950" x2="540" y2="1198"/>
<line x1="534" y1="1197" x2="1264" y2="1197" stroke-width="3"/>
<path d="M534 952h6M534 1034h6M534 1115h6"/>
</g>
<g font-size="17" text-anchor="end"><text x="532" y="958">150</text><text x="532" y="1040">100</text><text x="532" y="1121">50</text><text x="532" y="1203">0</text></g>
<text transform="translate(498,1075) rotate(-90)" font-size="23" text-anchor="middle">% Fraction</text>
<g font-size="22" text-anchor="end">
<text transform="translate(600,1212) rotate(-90)">TCF-1+PD-1+CD8</text>
<text transform="translate(664,1212) rotate(-90)">TCF-1+CD39+</text>
<text transform="translate(690,1212) rotate(-90)">PD-1+CD8</text>
<text transform="translate(744,1212) rotate(-90)">TCF-1-CD39+</text>
<text transform="translate(770,1212) rotate(-90)">PD-1+CD8</text>
<text transform="translate(836,1212) rotate(-90)">PD-1+Treg</text>
<text transform="translate(918,1212) rotate(-90)">PD-1-Treg</text>
<text transform="translate(984,1212) rotate(-90)">CD39-PD-1-CD8</text>
<text transform="translate(1010,1212) rotate(-90)">(naive)</text>
<text transform="translate(1064,1212) rotate(-90)">CD39-PD-1-CD8</text>
<text transform="translate(1090,1212) rotate(-90)">(memory)</text>
<text transform="translate(1144,1212) rotate(-90)">naive</text>
<text transform="translate(1170,1212) rotate(-90)">convCD4</text>
<text transform="translate(1224,1212) rotate(-90)">memory</text>
<text transform="translate(1250,1212) rotate(-90)">convCD4</text>
</g>
<rect x="1118" y="1328" width="167" height="110" fill="#fff" stroke="#000" stroke-width="1.5"/>
<circle cx="1138" cy="1345" r="8" fill="#000"/><rect x="1130" y="1375" width="16" height="16" fill="#000"/><path d="M1138 1404 L1147 1421 L1129 1421Z" fill="#000"/>
<g font-size="20" text-anchor="end"><text x="1278" y="1352">0-100µm</text><text x="1278" y="1390">100-200µm</text><text x="1278" y="1428">200-300µm</text></g>

<!-- panel g -->
<g stroke="#000" stroke-width="2" fill="none">
<line x1="1380" y1="934" x2="1380" y2="1177"/>
<line x1="1374" y1="1176" x2="1566" y2="1176" stroke-width="3"/>
<path d="M1374 974h6M1374 1075h6M1374 1176h6"/>
<line x1="1446" y1="1176" x2="1446" y2="1186"/><line x1="1521" y1="1176" x2="1521" y2="1186"/>
<path d="M1448 954V946H1528V954" stroke-width="4"/>
<path d="M1424 1128H1468M1446 1113V1144M1438 1113h16M1438 1144h16"/>
<path d="M1498 1091H1544M1521 1075V1106M1513 1075h16M1513 1106h16"/>
</g>
<g font-size="16" text-anchor="end"><text x="1372" y="980">100</text><text x="1372" y="1081">50</text><text x="1372" y="1182">0</text></g>
<text transform="translate(1318,1055) rotate(-90)" font-size="21" text-anchor="middle">% TCF-1 in</text>
<text transform="translate(1346,1045) rotate(-90)" font-size="21" text-anchor="middle">CD39<tspan font-size="13" dy="-8">+</tspan><tspan dy="8"> PD-1</tspan><tspan font-size="13" dy="-8">+</tspan><tspan dy="8"> CD8</tspan><tspan font-size="13" dy="-8">+</tspan><tspan dy="8"> T cells</tspan></text>
<text x="1488" y="935" font-size="22" text-anchor="middle"><tspan font-style="italic">p</tspan>=0.0338</text>
<g fill="#000">
<circle cx="1453" cy="974" r="4"/><circle cx="1459" cy="1090" r="4"/><circle cx="1446" cy="1094" r="4"/><circle cx="1440" cy="1101" r="4"/><circle cx="1453" cy="1109" r="4"/><circle cx="1432" cy="1118" r="4"/><circle cx="1446" cy="1126" r="4"/><circle cx="1438" cy="1135" r="4"/><circle cx="1452" cy="1140" r="4"/><circle cx="1446" cy="1152" r="4"/><circle cx="1440" cy="1176" r="4"/><circle cx="1459" cy="1176" r="4"/>
<circle cx="1521" cy="974" r="4"/><circle cx="1521" cy="1030" r="4"/><circle cx="1514" cy="1052" r="4"/><circle cx="1528" cy="1052" r="4"/><circle cx="1521" cy="1080" r="4"/><circle cx="1510" cy="1095" r="4"/><circle cx="1531" cy="1095" r="4"/><circle cx="1514" cy="1112" r="4"/><circle cx="1528" cy="1123" r="4"/><circle cx="1521" cy="1148" r="4"/>
</g>
<g font-size="20" text-anchor="end">
<text transform="translate(1452,1198) rotate(-45)">TLS-</text>
<text transform="translate(1470,1212) rotate(-45)">undetectable</text>
<text transform="translate(1520,1198) rotate(-45)">TLS-</text>
<text transform="translate(1538,1212) rotate(-45)">detectable</text>
</g>
</svg>
</body></html>
